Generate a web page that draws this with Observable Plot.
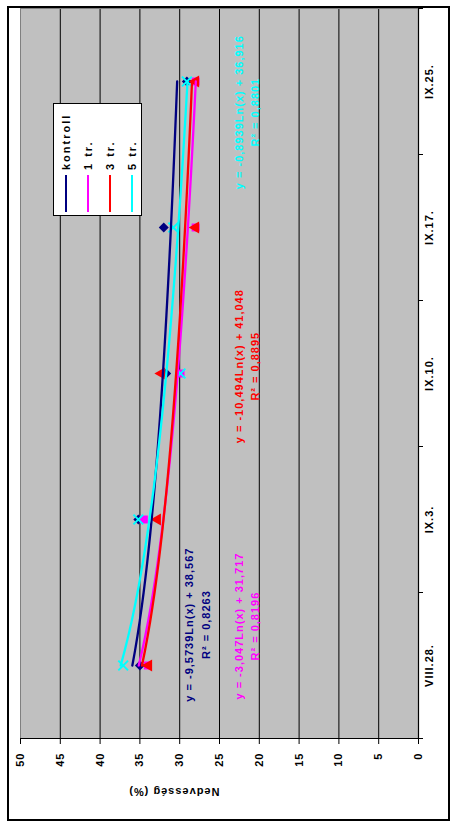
<!DOCTYPE html>
<html>
<head>
<meta charset="utf-8">
<script src="https://cdn.jsdelivr.net/npm/d3@7"></script>
<script src="https://cdn.jsdelivr.net/npm/@observablehq/plot@0.6"></script>
<style>
  html, body { margin: 0; padding: 0; background: #fff; overflow: hidden; }
  #page { position: relative; width: 451px; height: 823px; overflow: hidden; }
  #rot { position: absolute; left: 0; top: 0; width: 823px; height: 451px;
         transform-origin: 0 0; transform: translate(0px, 823px) rotate(-90deg); }
  #border { position: absolute; left: 2px; top: 7px; width: 815px; height: 443px;
            border: 2px solid #000; box-sizing: border-box; pointer-events: none; }
  #legend { position: absolute; left: 607px; top: 53px; width: 113px; height: 89px;
            background: #fff; border: 1px solid #000; box-sizing: border-box;
            font-family: "Liberation Sans", Arial, sans-serif; font-weight: bold;
            font-size: 11px; letter-spacing: 2px; padding-top: 1px; }
  .row { height: 22px; display: flex; align-items: center; }
  .sw { width: 37px; height: 0; border-top: 2.5px solid; margin-left: 3px; margin-right: 5px; }
</style>
</head>
<body>
<div id="page"><div id="rot"><div id="chart"></div><div id="legend"></div><div id="border"></div></div></div>
<script>
const categories = ["VIII.28.", "IX.3.", "IX.10.", "IX.17.", "IX.25."];
const seriesNames = ["kontroll", "1 tr.", "3 tr.", "5 tr."];
const kontroll = [35.0, 35.2, 31.7, 32.0, 29.1];
const tr1 = [34.0, 34.5, 29.9, 28.0, 28.0];
const tr3 = [33.9, 32.8, 32.3, 28.0, 28.0];
const tr5 = [37.1, 35.2, 29.9, 30.8, 29.1];
const valueTicks = [0, 5, 10, 15, 20, 25, 30, 35, 40, 45, 50];
const gridValues = [5, 10, 15, 20, 25, 30, 35, 40, 45];
const equations = ["y = -9,5739Ln(x) + 38,567", "y = -3,047Ln(x) + 31,717", "y = -10,494Ln(x) + 41,048", "y = -0,8939Ln(x) + 36,916"];
const r2Labels = ["R² = 0,8263", "R² = 0,8196", "R² = 0,8895", "R² = 0,8801"];
const labelCat = [1.28, 1.27, 3.05, 4.79];
const labelVal = [27.9, 21.7, 21.7, 21.7];
const colors = ["#000080", "#FF00FF", "#FF0000", "#00FFFF"];
const symbols = ["diamond2", "square", "triangle", "times"];

const seriesValues = [kontroll, tr1, tr3, tr5];
const points = [];
seriesValues.forEach((vals, s) => vals.forEach((v, i) => points.push({s, x: i + 1, v})));

// logarithmic trendlines (least squares on ln(x)), as in the original spreadsheet
const trend = [];
seriesValues.forEach((vals, s) => {
  const lx = vals.map((_, i) => Math.log(i + 1));
  const mx = d3.mean(lx), my = d3.mean(vals);
  const b = d3.sum(lx, (l, i) => (l - mx) * (vals[i] - my)) / d3.sum(lx, l => (l - mx) ** 2);
  const a = my - b * mx;
  for (let t = 1; t <= 5.0001; t += 0.1) trend.push({s, x: t, v: a + b * Math.log(t)});
});

const labels = equations.map((e, i) => ({text: e + "\n" + r2Labels[i], x: labelCat[i], v: labelVal[i], c: colors[i]}));

const chart = Plot.plot({
  width: 823, height: 451,
  marginLeft: 84, marginRight: 9, marginTop: 20, marginBottom: 33,
  x: {domain: [0.5, 5.5]},
  y: {domain: [0, 50]},
  style: {fontFamily: "'Liberation Sans', Arial, sans-serif", fontSize: "11px", fontWeight: "bold", letterSpacing: "1px", background: "transparent", color: "#000"},
  marks: [
    Plot.frame({fill: "#C0C0C0", stroke: "#808080"}),
    Plot.ruleY(gridValues, {stroke: "#000", strokeWidth: 1}),
    Plot.ruleY([0], {stroke: "#000", strokeWidth: 1.2}),
    Plot.ruleX([0.5], {stroke: "#000", strokeWidth: 1.2}),
    Plot.axisY(valueTicks, {tickSize: 5, tickPadding: 9, label: null, stroke: "#000"}),
    Plot.axisX([0.5, 1.5, 2.5, 3.5, 4.5, 5.5], {tickSize: 5, tickFormat: () => "", label: null}),
    Plot.axisX([1, 2, 3, 4, 5], {tickSize: 0, tickPadding: 7, tickFormat: d => categories[d - 1], label: null}),
    Plot.text(["Nedvesség (%)"], {frameAnchor: "left", dx: -53, rotate: -90, text: d => d, fill: "#000"}),
    Plot.dot(points.filter(d => d.s < 3), {x: "x", y: "v", symbol: d => symbols[d.s], fill: d => colors[d.s], r: 4.5, stroke: "none"}),
    Plot.dot(points.filter(d => d.s === 3), {x: "x", y: "v", symbol: "times", stroke: colors[3], strokeWidth: 2, r: 4.5}),
    ...[0, 1, 2, 3].map(s => Plot.line(trend.filter(d => d.s === s), {x: "x", y: "v", stroke: colors[s], strokeWidth: 2.3, curve: "linear"})),
    Plot.text(labels, {x: "x", y: "v", text: "text", fill: "c", lineHeight: 1.5})
  ]
});
document.getElementById("chart").appendChild(chart);

const legend = document.getElementById("legend");
seriesNames.forEach((n, i) => {
  const row = document.createElement("div");
  row.className = "row";
  const sw = document.createElement("div");
  sw.className = "sw";
  sw.style.borderTopColor = colors[i];
  const t = document.createElement("span");
  t.textContent = n;
  row.appendChild(sw);
  row.appendChild(t);
  legend.appendChild(row);
});
</script>
</body>
</html>
